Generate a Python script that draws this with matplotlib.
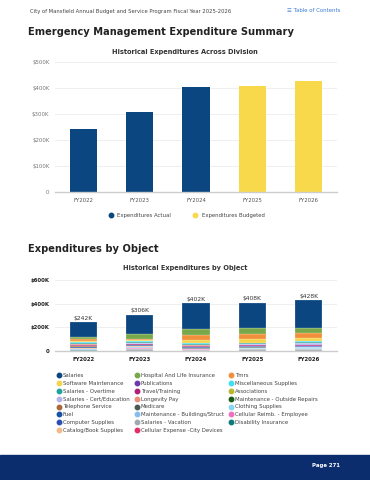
import matplotlib.pyplot as plt
from matplotlib.lines import Line2D
from matplotlib.patches import Rectangle
import numpy as np

plt.rcParams['font.family'] = ['DejaVu Sans']

# data (values in $K)
years = ['FY2022', 'FY2023', 'FY2024', 'FY2025', 'FY2026']
div_actual = [242, 306, 402]        # FY2022-FY2024
div_budgeted = [408, 428]           # FY2025-FY2026

# expenditures by object, listed in legend order (column by column)
categories = [
    'Salaries', 'Software Maintenance', 'Salaries - Overtime', 'Salaries - Cert/Education',
    'Telephone Service', 'Fuel', 'Computer Supplies', 'Catalog/Book Supplies',
    'Hospital And Life Insurance', 'Publications', 'Travel/Training', 'Longevity Pay',
    'Medicare', 'Maintenance - Buildings/Struct', 'Salaries - Vacation', 'Cellular Expense -City Devices',
    'Tmrs', 'Miscellaneous Supplies', 'Associations', 'Maintenance - Outside Repairs',
    'Clothing Supplies', 'Cellular Reimb. - Employee', 'Disability Insurance',
]
colors = [
    '#0b4680', '#f5d44c', '#1fa3a0', '#b3b3ef',
    '#a8683a', '#1652a6', '#2d4fb3', '#f2bb88',
    '#78a84a', '#6a3aa8', '#b0207a', '#ea8f78',
    '#4a5a50', '#86bdee', '#a0aab0', '#e0306a',
    '#f0903a', '#40e0f0', '#b8b830', '#1a5a1a',
    '#86d8f0', '#f070c0', '#0a7a7a',
]
values = {
    'Salaries':                       [124, 162, 219, 217, 231],
    'Hospital And Life Insurance':    [20, 40, 48, 47, 48],
    'Tmrs':                           [14, 14, 42, 40, 42],
    'Software Maintenance':           [10, 8, 28, 34, 22],
    'Miscellaneous Supplies':         [6, 5, 8, 6, 10],
    'Salaries - Overtime':            [8, 6, 10, 6, 8],
    'Longevity Pay':                  [6, 4, 3, 3, 3],
    'Salaries - Cert/Education':      [5, 6, 4, 5, 14],
    'Travel/Training':                [6, 8, 5, 4, 4],
    'Telephone Service':              [8, 5, 3, 3, 3],
    'Fuel':                           [6, 4, 3, 3, 3],
    'Computer Supplies':              [5, 4, 2, 4, 2],
    'Catalog/Book Supplies':          [3, 2, 1, 1, 1],
    'Publications':                   [4, 5, 3, 5, 2],
    'Medicare':                       [2, 2, 3, 3, 3],
    'Maintenance - Buildings/Struct': [4, 3, 3, 3, 6],
    'Associations':                   [1, 1, 1, 1, 1],
    'Maintenance - Outside Repairs':  [1, 1, 0, 0, 0],
    'Clothing Supplies':              [3, 4, 3, 3, 4],
    'Cellular Reimb. - Employee':     [1, 1, 1, 1, 1],
    'Disability Insurance':           [1, 1, 1, 1, 1],
    'Cellular Expense -City Devices': [2, 2, 4, 3, 3],
    'Salaries - Vacation':            [2, 18, 7, 15, 16],
}
# bottom -> top
stack_order = [
    'Salaries - Vacation', 'Cellular Expense -City Devices', 'Disability Insurance',
    'Cellular Reimb. - Employee', 'Clothing Supplies', 'Maintenance - Outside Repairs',
    'Associations', 'Maintenance - Buildings/Struct', 'Medicare', 'Publications',
    'Catalog/Book Supplies', 'Computer Supplies', 'Fuel', 'Telephone Service',
    'Travel/Training', 'Salaries - Cert/Education', 'Longevity Pay', 'Salaries - Overtime',
    'Miscellaneous Supplies', 'Software Maintenance', 'Tmrs', 'Hospital And Life Insurance',
    'Salaries',
]

W, H = 370, 480
fig = plt.figure(figsize=(W / 100, H / 100), dpi=100)
fig.patch.set_facecolor('white')


def box(x0, y0, x1, y1):
    # pixel box (top-left origin) -> figure fraction rect
    return [x0 / W, 1 - y1 / H, (x1 - x0) / W, (y1 - y0) / H]


def fy(y):
    return 1 - y / H


grid_c = '#ececec'

# header
fig.text(30 / W, fy(11), 'City of Mansfield Annual Budget and Service Program Fiscal Year 2025-2026',
         fontsize=3.8, color='#444444', va='center')
fig.text(340 / W, fy(11), '\u2630 Table of Contents', fontsize=3.9, color='#3b7dd8',
         va='center', ha='right')
fig.text(28 / W, fy(32), 'Emergency Management Expenditure Summary', fontsize=7.1,
         fontweight='bold', color='#222222', va='center')
fig.text(28 / W, fy(249), 'Expenditures by Object', fontsize=7.1,
         fontweight='bold', color='#222222', va='center')


def style_axes(ax, ymax, step):
    ax.set_ylim(0, ymax)
    ax.set_xlim(-0.5, len(years) - 0.5)
    ax.set_yticks(np.arange(0, ymax + 1, step))
    ax.set_yticklabels(['0' if v == 0 else f'${v}K' for v in np.arange(0, ymax + 1, step)])
    ax.set_xticks(range(len(years)))
    ax.set_xticklabels(years)
    ax.tick_params(length=0, labelsize=3.9, colors='#555555', pad=4)
    ax.grid(axis='y', color=grid_c, linewidth=0.6)
    ax.set_axisbelow(True)
    for s in ['top', 'right', 'left']:
        ax.spines[s].set_visible(False)
    ax.spines['bottom'].set_color('#cccccc')
    ax.spines['bottom'].set_linewidth(1.0)


# chart 1: historical expenditures across division
ax1 = fig.add_axes(box(55, 62, 337, 192))
ax1.bar(range(3), div_actual, width=0.48, color='#0b4680', zorder=2)
ax1.bar(range(3, 5), div_budgeted, width=0.48, color='#f8d94c', zorder=2)
style_axes(ax1, 500, 100)
for lab in ax1.get_yticklabels():
    lab.set_color('#777777')
fig.text(185 / W, fy(52), 'Historical Expenditures Across Division', fontsize=4.8,
         fontweight='bold', color='#333333', ha='center', va='center')
h1 = [Line2D([], [], marker='o', ls='', color='#0b4680', markersize=3.2),
      Line2D([], [], marker='o', ls='', color='#f8d94c', markersize=3.2)]
fig.legend(h1, ['Expenditures Actual', 'Expenditures Budgeted'], loc='center',
           bbox_to_anchor=(185 / W, fy(215)), ncol=2, frameon=False, fontsize=3.9,
           handletextpad=0.2, columnspacing=3.5, labelcolor='#444444')

# chart 2: historical expenditures by object
ax2 = fig.add_axes(box(55, 280, 337, 351))
bottom = np.zeros(len(years))
cmap = dict(zip(categories, colors))
for name in stack_order:
    v = np.array(values[name], dtype=float)
    ax2.bar(range(len(years)), v, bottom=bottom, width=0.48, color=cmap[name],
            edgecolor='white', linewidth=0.15, zorder=2)
    bottom += v
style_axes(ax2, 600, 200)
ax2.tick_params(labelsize=3.9, colors='#222222')
for lab in ax2.get_xticklabels() + ax2.get_yticklabels():
    lab.set_fontweight('bold')
for i, tot in enumerate(bottom):
    ax2.text(i, tot + 15, f'${int(round(tot))}K', ha='center', va='bottom',
             fontsize=4.3, color='#333333')
fig.text(185 / W, fy(268), 'Historical Expenditures by Object', fontsize=4.8,
         fontweight='bold', color='#333333', ha='center', va='center')

h2 = [Line2D([], [], marker='o', ls='', color=c, markersize=3.2) for c in colors]
fig.legend(h2, categories, loc='upper left', bbox_to_anchor=(54 / W, fy(371)),
           ncol=3, frameon=False, fontsize=3.9, handletextpad=0.2, columnspacing=0.9,
           labelspacing=0.52, handlelength=1.0, labelcolor='#444444', borderaxespad=0)

# footer band
fig.add_artist(Rectangle((0, 0), 1, 25 / H, transform=fig.transFigure,
                         color='#0b2c6d', zorder=0))
fig.text(340 / W, fy(466), 'Page 271', fontsize=3.9, fontweight='bold',
         color='white', ha='right', va='center')

fig.savefig('out.png', dpi=100)
